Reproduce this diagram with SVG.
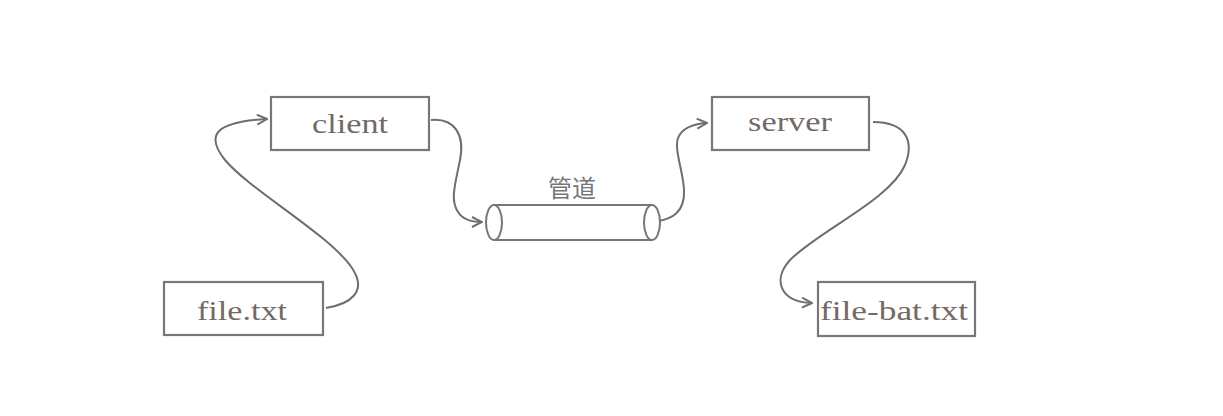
<svg xmlns="http://www.w3.org/2000/svg" width="1223" height="416" viewBox="0 0 1223 416">
<defs>
<style>
.box{fill:#fff;stroke:#777;stroke-width:2.2}
.lbl{font-family:"Liberation Serif","Times New Roman",serif;font-size:28px;fill:#736a66;text-anchor:middle}
.cn{fill:none;stroke:#6e6e6e;stroke-width:2}
.pipe{fill:#fff;stroke:#777;stroke-width:2}
.cjk{font-family:"Noto Sans CJK SC","Liberation Sans",sans-serif;font-size:24px;fill:#777;text-anchor:middle}
</style>
<marker id="arr" viewBox="0 0 12 12" refX="11" refY="6" markerWidth="12" markerHeight="12" markerUnits="userSpaceOnUse" orient="auto">
<path d="M1,1 L11,6 L1,11" fill="none" stroke="#6e6e6e" stroke-width="2"/>
</marker>
</defs>
<rect width="1223" height="416" fill="#fff"/>
<g id="connectors">
<path class="cn" d="M326,308 C350,304 368,292 352,268 C330,235 250,190 225,160 C205,135 215,122 267,119" marker-end="url(#arr)"/>
<path class="cn" d="M431,120 C455,118 465,135 460,160 C455,185 450,200 458,212 C463,220 472,222 482,222" marker-end="url(#arr)"/>
<path class="cn" d="M645,222 C675,222 685,210 684,190 C683,170 674,150 678,138 C682,128 692,124 707,123" marker-end="url(#arr)"/>
<path class="cn" d="M873,122 C905,122 915,140 905,165 C890,200 820,230 790,260 C772,280 780,302 812,303" marker-end="url(#arr)"/>
</g>
<g id="client">
<rect class="box" x="271" y="97" width="158" height="53"/>
<text class="lbl" x="350" y="133" textLength="76" lengthAdjust="spacingAndGlyphs">client</text>
</g>
<g id="file-txt">
<rect class="box" x="164" y="282" width="159" height="53"/>
<text class="lbl" x="242" y="320" textLength="90" lengthAdjust="spacingAndGlyphs">file.txt</text>
</g>
<g id="server">
<rect class="box" x="712" y="97" width="157" height="53"/>
<text class="lbl" x="790" y="131" textLength="84" lengthAdjust="spacingAndGlyphs">server</text>
</g>
<g id="file-bat-txt">
<rect class="box" x="818" y="282" width="157" height="54"/>
<text class="lbl" x="894" y="320" textLength="148" lengthAdjust="spacingAndGlyphs">file-bat.txt</text>
</g>
<g id="pipe">
<path class="pipe" d="M494,205 L652,205 A8,17.5 0 0 1 652,240 L494,240 Z"/>
<ellipse class="pipe" cx="494" cy="222.5" rx="8" ry="17.5"/>
<path class="pipe" fill="none" d="M652,205 A8,17.5 0 0 0 652,240"/>
<text class="cjk" x="572" y="197">管道</text>
</g>
</svg>
